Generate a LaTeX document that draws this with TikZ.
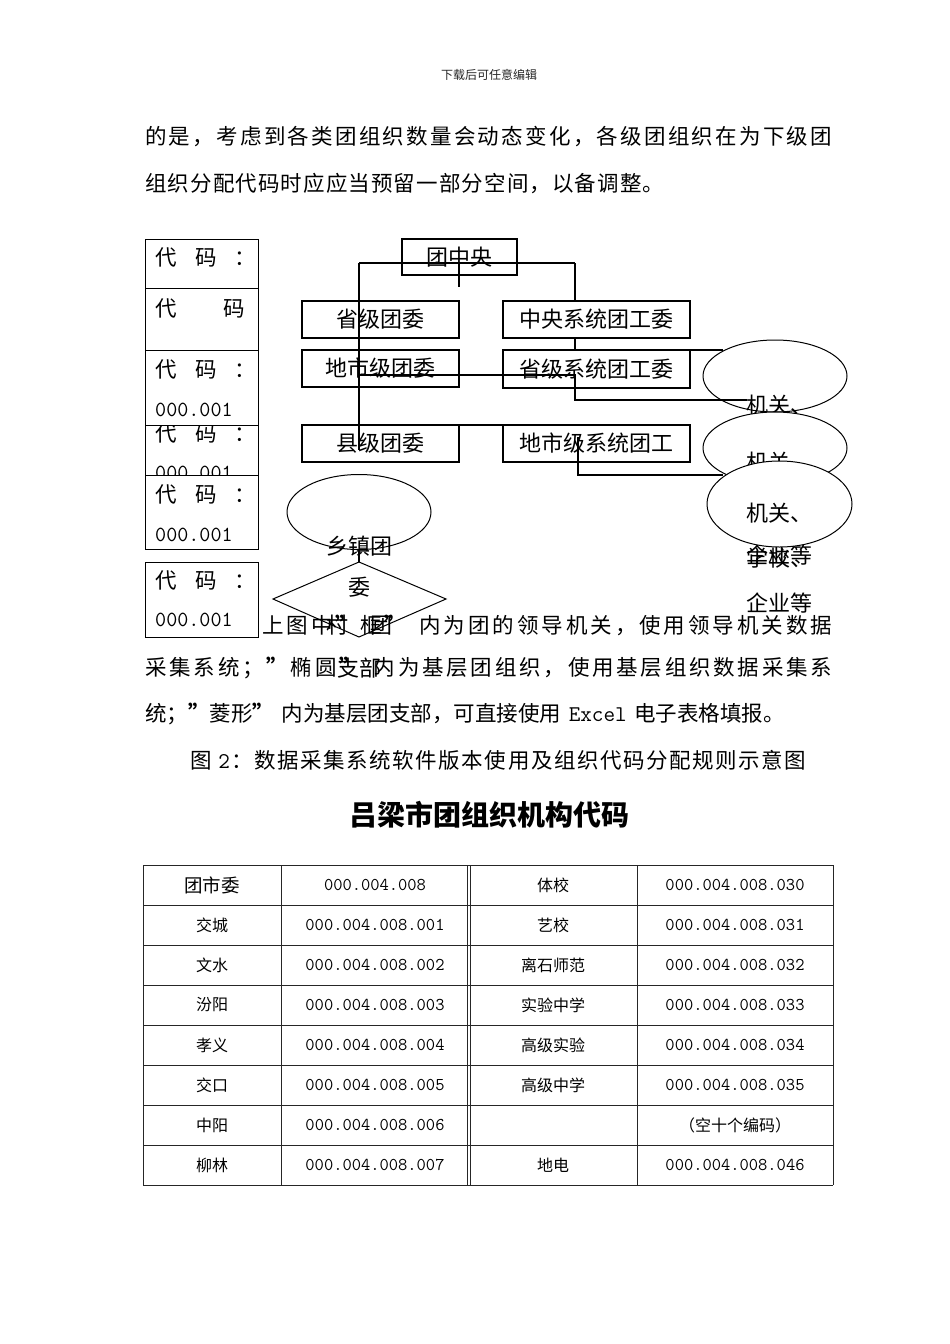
\documentclass[tikz,border=0pt]{standalone}
\usepackage{fontspec}
\setmainfont{Noto Sans CJK SC}
\usetikzlibrary{shapes.geometric}
\makeatletter
\def\spr@end{\spr@end}
\def\spr@loop#1{\ifx\spr@end#1\else#1\hfil\expandafter\spr@loop\fi}
\newcommand\spreadline[2]{\hbox to #1{\spr@loop#2\spr@end\unskip}}
\makeatother
\newcommand\bodyfont{\fontsize{21.5}{26}\selectfont}
\newcommand\orgfont{\fontsize{22}{26}\selectfont}
\newcommand\hsp{\hbox to 0.35em{}}
\newcommand\q{\hbox to 1em{\bfseries ”\hss}}
\newcommand\XL{\hbox{\ttfamily\fontsize{22.5}{26}\selectfont Excel}}
\newcommand\two{\hbox{\kern5pt\ttfamily\fontsize{22.5}{26}\selectfont 2}}
\newcommand\codetxt{代\kern18.5pt 码\kern18pt ：}
\newcommand\codenum{{\ttfamily\fontsize{21.5}{24}\selectfont 000.001}}
\newcommand\bigcn{\fontsize{18.5}{21}\selectfont}
\newcommand\cnsz{\normalfont\fontsize{16}{19}\selectfont}
\begin{document}
\begin{tikzpicture}[x=1pt,y=-1pt,
  para/.style={anchor=west, inner sep=0, font=\bodyfont},
  cbox/.style={draw, line width=1pt, anchor=north west, inner sep=0, minimum width=113pt},
  ctext/.style={anchor=west, inner sep=0, font=\bodyfont},
  obox/.style={draw, line width=1.1pt, inner sep=0, font=\orgfont},
  ell/.style={draw, ellipse, line width=1pt, fill=white, inner sep=0},
  etext/.style={anchor=west, inner sep=0, font=\orgfont},
  dtext/.style={inner sep=0, font=\orgfont},
  conn/.style={line width=1.2pt},
  tcn/.style={inner sep=0, font=\cnsz},
  tnum/.style={inner sep=0, font=\ttfamily\fontsize{18}{20}\selectfont},
  tline/.style={line width=0.9pt, draw=black!85}]
\useasboundingbox (0,0) rectangle (950,1344);
\fill[white] (0,0) rectangle (950,1344);

% header
\node[inner sep=0, font=\fontsize{12}{14}\selectfont, text=black!85] (hdr) at (489,75) {下载后可任意编辑};

% top paragraph
\node[para] (p1) at (145,137) {\spreadline{687pt}{的是，考虑到各类团组织数量会动态变化，各级团组织在为下级团}};
\node[para] (p2) at (145,184) {\spreadline{519pt}{组织分配代码时应应当预留一部分空间，以备调整。}};

% code boxes
\node[cbox, minimum height=49pt] (c1) at (145,239) {};
\node[ctext] (c1a) at (155,257) {\codetxt};
\node[cbox, minimum height=62pt] (c2) at (145,288) {};
\node[ctext] (c2a) at (155,308) {代\kern47pt 码};
\node[cbox, minimum height=75pt] (c3) at (145,350) {};
\node[ctext] (c3a) at (155,369) {\codetxt};
\node[ctext] (c3b) at (155,410) {\codenum};
\node[cbox, minimum height=50pt] (c4) at (145,425) {};
\begin{scope}
  \clip (145,425.5) rectangle (258,474.5);
  \node[ctext] (c4a) at (155,433) {\codetxt};
  \node[ctext] (c4b) at (155,473) {\codenum};
\end{scope}
\node[cbox, minimum height=74pt] (c5) at (145,475) {};
\node[ctext] (c5a) at (155,494) {\codetxt};
\node[ctext] (c5b) at (155,535) {\codenum};
\node[cbox, minimum height=75pt] (c6) at (145,562) {};
\node[ctext] (c6a) at (155,580) {\codetxt};
\node[ctext] (c6b) at (155,620) {\codenum};

% org boxes
\node[obox, minimum width=115pt, minimum height=36pt] (tzy) at (459.5,257) {团中央};
\node[obox, minimum width=157pt, minimum height=37pt] (sjtw) at (380.5,319.5) {省级团委};
\node[obox, minimum width=187pt, minimum height=37pt] (zyxt) at (596.5,319.5) {中央系统团工委};
\node[obox, minimum width=157pt, minimum height=37pt] (dsj) at (380.5,368.5) {地市级团委};
\node[obox, minimum width=187pt, minimum height=38pt] (sjxt) at (596.5,369) {省级系统团工委};
\node[obox, minimum width=157pt, minimum height=37pt] (xj) at (380.5,443.5) {县级团委};
\node[obox, minimum width=187pt, minimum height=37pt] (dsjxt) at (596.5,443.5) {地市级系统团工};

% ellipse 1
\node[ell, minimum width=144pt, minimum height=72pt] (e1) at (775,376) {};
\node[etext] (e1a) at (746,405) {机关、};
\node[etext] (e1b) at (746,450) {学校、};
\node[etext] (e1c) at (746,495) {企业等};

% connectors
\coordinate (jA) at (359,263);
\coordinate (jB) at (575,263);
\coordinate (jC) at (459,263);
\coordinate (jC2) at (459,287);
\coordinate (jD) at (359,375);
\coordinate (jE) at (359,450);
\coordinate (jF) at (575,301);
\coordinate (jG) at (575,338);
\coordinate (jH) at (575,350);
\coordinate (jI) at (723,350);
\coordinate (jJ) at (575,375);
\coordinate (jK) at (575,400);
\coordinate (jL) at (747,400);
\coordinate (jM) at (359,425);
\coordinate (jN) at (503,425);
\coordinate (jO) at (578,437);
\coordinate (jP) at (578,475);
\coordinate (jQ) at (723,475);
\draw[conn] (jA) -- (jB);
\draw[conn] (jC) -- (jC2);
\draw[conn] (jA) -- (jD);
\draw[line width=2.4pt] (jD) -- (jE);
\draw[conn] (jB) -- (jF);
\draw[conn] (jG) -- (jH) -- (jI);
\draw[conn] (jD) -- (jJ) -- (jK) -- (jL);
\draw[conn] (jM) -- (jN);
\draw[conn] (jO) -- (jP) -- (jQ);

% ellipses 2 and 3
\node[ell, minimum width=144pt, minimum height=72pt] (e2) at (775,448) {};
\node[etext] (e2a) at (746,462) {机关、};
\node[etext] (e2b) at (746,508) {学校、};
\node[etext] (e2c) at (746,555) {企业等};
\node[ell, minimum width=145pt, minimum height=86pt] (e3) at (779.5,504) {};
\node[etext] (e3a) at (746,513) {机关、};
\node[etext] (e3b) at (746,558) {学校、};
\node[etext] (e3c) at (746,603) {企业等};

% township ellipse and village diamond
\node[ell, fill=none, minimum width=144pt, minimum height=75pt] (eL) at (359,512) {};
\coordinate (dT) at (359,562);
\coordinate (dR) at (446,599);
\coordinate (dB) at (359,637);
\coordinate (dL) at (273,599);
\draw[conn] (eL.south) -- (dT);
\draw[line width=1pt] (dT) -- (dR) -- (dB) -- (dL) -- cycle;
\node[dtext] (eLa) at (359,546) {乡镇团};
\node[dtext] (eLb) at (359,587) {委};

% lower paragraph
\node[para] (pA) at (262,625) {\spreadline{570pt}{上图中\q 框\q\hsp 内为团的领导机关，使用领导机关数据}};
\node[para] (pB) at (145,668) {\spreadline{687pt}{采集系统；\q 椭圆\q\hsp 内为基层团组织，使用基层组织数据采集系}};
\node[para] (pC) at (145,714) {\spreadline{630pt}{统；\q 菱形\q\hsp 内为基层团支部，可直接使用\hsp\XL\hsp 电子表格填报。}};
\node[dtext] (dA) at (359,625) {村　团};
\node[dtext] (dBt) at (359,668) {支部};
\node[para] (cap) at (190,760) {\spreadline{616pt}{图\two：数据采集系统软件版本使用及组织代码分配规则示意图}};

% title
\node[inner sep=0, font=\fontsize{28}{32}\selectfont\bfseries] (title) at (489,815) {吕梁市团组织机构代码};

% table grid
\foreach \yy in {865,905,945,985,1025,1065,1105,1145,1185}
  \draw[tline] (143,\yy) -- (833,\yy);
\foreach \xx in {143,281,467.5,470,637,833}
  \draw[tline] (\xx,865) -- (\xx,1185);

% table text
\foreach \a/\b/\c/\d [count=\r from 0] in {
  {\bigcn 团市委}/000.004.008/体校/000.004.008.030,
  交城/000.004.008.001/艺校/000.004.008.031,
  文水/000.004.008.002/离石师范/000.004.008.032,
  汾阳/000.004.008.003/实验中学/000.004.008.033,
  孝义/000.004.008.004/高级实验/000.004.008.034,
  交口/000.004.008.005/高级中学/000.004.008.035,
  中阳/000.004.008.006/{}/{\cnsz （空十个编码）},
  柳林/000.004.008.007/地电/000.004.008.046}
{
  \node[tcn] (ta\r) at (212,{885+40*\r}) {\a};
  \node[tnum] (tb\r) at (375,{885+40*\r}) {\b};
  \node[tcn] (tc\r) at (553,{885+40*\r}) {\c};
  \node[tnum] (td\r) at (735,{885+40*\r}) {\d};
}
\end{tikzpicture}
\end{document}
